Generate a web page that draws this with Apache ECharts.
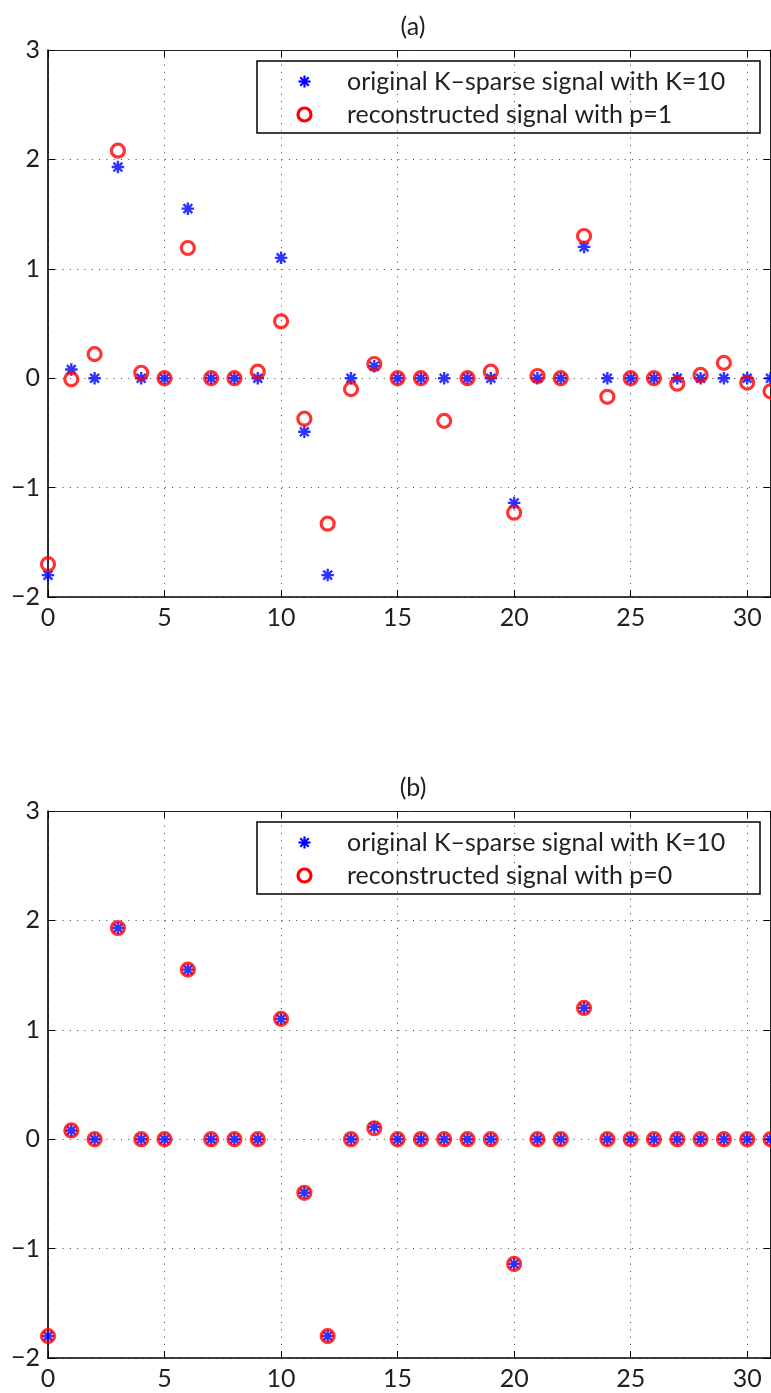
<!DOCTYPE html>
<html>
<head>
<meta charset="utf-8">
<title>K-sparse signal reconstruction</title>
<script src="https://cdn.jsdelivr.net/npm/echarts@6/dist/echarts.min.js"></script>
<style>
  html, body { margin: 0; padding: 0; background: #ffffff; }
  #chart { width: 771px; height: 1393px; }
</style>
</head>
<body>
<div id="chart"></div>
<script>
// Sample index n = 0..31
const sampleIndex = Array.from({ length: 32 }, (_, i) => i);

// Original K-sparse signal (K = 10)
const originalSignal = [
  -1.80, 0.08, 0, 1.93, 0, 0, 1.55, 0, 0, 0,
  1.10, -0.49, -1.80, 0, 0.11, 0, 0, 0, 0, 0,
  -1.14, 0, 0, 1.20, 0, 0, 0, 0, 0, 0,
  0, 0
];

// Reconstruction with p = 1
const reconP1 = [
  -1.70, -0.01, 0.22, 2.08, 0.05, 0, 1.19, 0, 0, 0.06,
  0.52, -0.37, -1.33, -0.10, 0.13, 0, 0, -0.39, 0, 0.06,
  -1.23, 0.02, 0, 1.30, -0.17, 0, 0, -0.05, 0.03, 0.14,
  -0.04, -0.12
];

// Reconstruction with p = 0
const reconP0 = [
  -1.80, 0.08, 0, 1.93, 0, 0, 1.55, 0, 0, 0,
  1.10, -0.49, -1.80, 0, 0.10, 0, 0, 0, 0, 0,
  -1.14, 0, 0, 1.20, 0, 0, 0, 0, 0, 0,
  0, 0
];

const panelTitles = ['(a)', '(b)'];
const legendOriginal = 'original K\u2013sparse signal with K=10';
const legendRecon = ['reconstructed signal with p=1', 'reconstructed signal with p=0'];

const xTicks = { min: 0, max: 31, interval: 5 };
const yTicks = { min: -2, max: 3, interval: 1 };

// ---------------------------------------------------------------------
const FONT = 'Lato';
const TEXT_COLOR = '#231f20';
const FS = 25;

// Eight-armed asterisk built from four thin bars (filled path)
function asteriskPath(L, w) {
  let d = '';
  for (let k = 0; k < 4; k++) {
    const a = k * Math.PI / 4;
    const c = Math.cos(a), s = Math.sin(a);
    const pts = [[-L, -w], [L, -w], [L, w], [-L, w]].map(([x, y]) =>
      [(x * c - y * s).toFixed(3), (x * s + y * c).toFixed(3)]);
    d += 'M' + pts[0].join(' ') + 'L' + pts[1].join(' ') + 'L' + pts[2].join(' ') + 'L' + pts[3].join(' ') + 'Z';
  }
  return d;
}
const STAR = 'path://' + asteriskPath(6, 1.15);

// Legend asterisk drawn as four stroked segments around (cx, cy)
function asteriskLines(cx, cy, L) {
  const out = [];
  for (let k = 0; k < 4; k++) {
    const a = k * Math.PI / 4;
    out.push({
      type: 'line',
      shape: { x1: cx - L * Math.cos(a), y1: cy - L * Math.sin(a), x2: cx + L * Math.cos(a), y2: cy + L * Math.sin(a) },
      style: { stroke: '#0000ff', lineWidth: 2.2 }
    });
  }
  return out;
}

const gridTops = [50, 811];
const GRID_LEFT = 48, GRID_W = 722.5, GRID_H = 547;

const pair = (ys) => sampleIndex.map((x, i) => [x, ys[i]]);

const grids = [], xAxes = [], yAxes = [], series = [], titles = [], graphics = [];

[reconP1, reconP0].forEach((recon, g) => {
  grids.push({ left: GRID_LEFT, top: gridTops[g], width: GRID_W, height: GRID_H, containLabel: false });

  // bottom x axis (labels + grid)
  xAxes.push({
    type: 'value', gridIndex: g, position: 'bottom',
    min: xTicks.min, max: xTicks.max, interval: xTicks.interval,
    axisLine: { onZero: false, lineStyle: { color: '#000', width: 1.6 } },
    axisTick: { inside: true, length: 7, lineStyle: { color: '#000', width: 1 } },
    axisLabel: { margin: 8, fontFamily: FONT, fontSize: FS, color: TEXT_COLOR, showMaxLabel: false,
      formatter: (v) => (v % xTicks.interval === 0 ? String(v) : '') },
    splitLine: { show: true, lineStyle: { color: '#444', width: 1, type: [1, 6.3] } }
  });
  // top x axis (frame + ticks)
  xAxes.push({
    type: 'value', gridIndex: g, position: 'top',
    min: xTicks.min, max: xTicks.max, interval: xTicks.interval,
    axisLine: { onZero: false, lineStyle: { color: '#222', width: 1 } },
    axisTick: { inside: true, length: 7, lineStyle: { color: '#000', width: 1 } },
    axisLabel: { show: false }, splitLine: { show: false }
  });
  // left y axis
  yAxes.push({
    type: 'value', gridIndex: g, position: 'left',
    min: yTicks.min, max: yTicks.max, interval: yTicks.interval,
    axisLine: { show: true, onZero: false, lineStyle: { color: '#000', width: 1.6 } },
    axisTick: { show: true, inside: true, length: 7, lineStyle: { color: '#000', width: 1 } },
    axisLabel: { margin: 8, fontFamily: FONT, fontSize: FS, color: TEXT_COLOR,
      formatter: (v) => (v < 0 ? '\u2212' + Math.abs(v) : String(v)) },
    splitLine: { show: true, lineStyle: { color: '#444', width: 1, type: [1, 6.3] } }
  });
  // right y axis (frame + ticks)
  yAxes.push({
    type: 'value', gridIndex: g, position: 'right',
    min: yTicks.min, max: yTicks.max, interval: yTicks.interval,
    axisLine: { show: true, onZero: false, lineStyle: { color: '#222', width: 1 } },
    axisTick: { show: true, inside: true, length: 7, lineStyle: { color: '#000', width: 1 } },
    axisLabel: { show: false }, splitLine: { show: false }
  });

  series.push({
    name: 'original ' + g, type: 'scatter', xAxisIndex: 2 * g, yAxisIndex: 2 * g,
    data: pair(originalSignal), symbol: STAR, symbolSize: 12.5, clip: false,
    itemStyle: { color: '#0000ff' }, z: 3, emphasis: { disabled: true }, silent: true
  });
  series.push({
    name: legendRecon[g], type: 'scatter', xAxisIndex: 2 * g, yAxisIndex: 2 * g,
    data: pair(recon), symbol: 'circle', symbolSize: 13, clip: false,
    itemStyle: { color: 'rgba(0,0,0,0)', borderColor: '#ff0000', borderWidth: 3.2 },
    z: 4, emphasis: { disabled: true }, silent: true
  });

  titles.push({
    text: panelTitles[g], left: 408, top: gridTops[g] - 41, textAlign: 'center',
    textStyle: { fontFamily: FONT, fontSize: FS, fontWeight: 'normal', color: TEXT_COLOR }
  });

  // legend box
  const ly = gridTops[g] + 11;
  graphics.push({
    type: 'group', x: 257, y: ly, z: 100,
    children: [
      { type: 'rect', shape: { x: 0, y: 0, width: 503, height: 72 },
        style: { fill: '#fff', stroke: '#000', lineWidth: 1.5 } },
      ...asteriskLines(47.5, 20.5, 6),
      { type: 'circle', shape: { cx: 47.5, cy: 53.5, r: 6.5 },
        style: { fill: 'none', stroke: '#ff0000', lineWidth: 3.2 } },
      { type: 'text', x: 90, y: 21, style: { text: legendOriginal, fontFamily: FONT, fontSize: FS,
        fill: TEXT_COLOR, verticalAlign: 'middle', align: 'left' } },
      { type: 'text', x: 90, y: 54, style: { text: legendRecon[g], fontFamily: FONT, fontSize: FS,
        fill: TEXT_COLOR, verticalAlign: 'middle', align: 'left' } }
    ]
  });
});

const chart = echarts.init(document.getElementById('chart'), null, { renderer: 'canvas' });
chart.setOption({
  backgroundColor: '#ffffff',
  animation: false,
  title: titles,
  grid: grids,
  xAxis: xAxes,
  yAxis: yAxes,
  series: series,
  graphic: graphics
});
</script>
</body>
</html>
